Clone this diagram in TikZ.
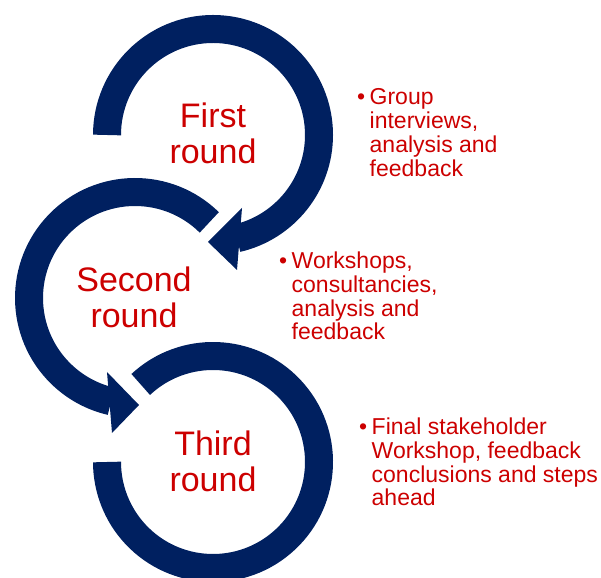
\documentclass[tikz,border=0pt]{standalone}
\usepackage{fontspec}
\setmainfont{Liberation Sans}
\definecolor{navy}{RGB}{0,32,96}
\definecolor{txtred}{RGB}{204,0,0}
\begin{document}
\begin{tikzpicture}[x=1pt,y=1pt,
  ring/.style={draw=navy, line width=28pt, line cap=butt},
  head/.style={fill=navy, draw=none},
  roundlabel/.style={text=txtred, font=\fontsize{34}{36}\selectfont, align=center, inner sep=0pt},
  bulletlist/.style={text=txtred, font=\fontsize{23}{23.8}\selectfont, inner sep=0pt, anchor=base west}]
\useasboundingbox (0,0) rectangle (601,577);
\clip (0,0) rectangle (601,577);
\coordinate (c1) at (213,442);
\coordinate (c2) at (135,279);
\coordinate (c3) at (213,115);
% first ring
\draw[ring] ([shift={(180:106)}]c1) arc[start angle=180, end angle=-77, radius=106];
\coordinate (h1a) at (242,369);
\coordinate (h1t) at (208,335);
\coordinate (h1b) at (237,307);
\fill[head] (h1a) -- (h1t) -- (h1b) -- cycle;
% second ring
\draw[ring] ([shift={(45.5:106)}]c2) arc[start angle=45.5, end angle=257, radius=106];
\coordinate (h2a) at (107,205);
\coordinate (h2t) at (139,172);
\coordinate (h2b) at (112,144);
\fill[head] (h2a) -- (h2t) -- (h2b) -- cycle;
% third ring
\draw[ring] ([shift={(133:106)}]c3) arc[start angle=133, end angle=-180, radius=106];
% labels
\node[roundlabel] (l1) at (213,444) {First\\round};
\node[roundlabel] (l2) at (134,279.5) {Second\\round};
\node[roundlabel] (l3) at (213,115.5) {Third\\round};
% bullet lists
\node[bulletlist] (b1) at (357,472) {\parbox[t]{230pt}{\raggedright\hangindent=12.5pt\hangafter=1\noindent\makebox[12.5pt][l]{•}Group\newline interviews,\newline analysis and\newline feedback}};
\node[bulletlist] (b2) at (279,308.5) {\parbox[t]{230pt}{\raggedright\hangindent=12.5pt\hangafter=1\noindent\makebox[12.5pt][l]{•}Workshops,\newline consultancies,\newline analysis and\newline feedback}};
\node[bulletlist] (b3) at (359,142.5) {\parbox[t]{240pt}{\raggedright\hangindent=12.5pt\hangafter=1\noindent\makebox[12.5pt][l]{•}Final stakeholder\newline Workshop, feedback\newline conclusions and steps\newline ahead}};
\end{tikzpicture}
\end{document}
